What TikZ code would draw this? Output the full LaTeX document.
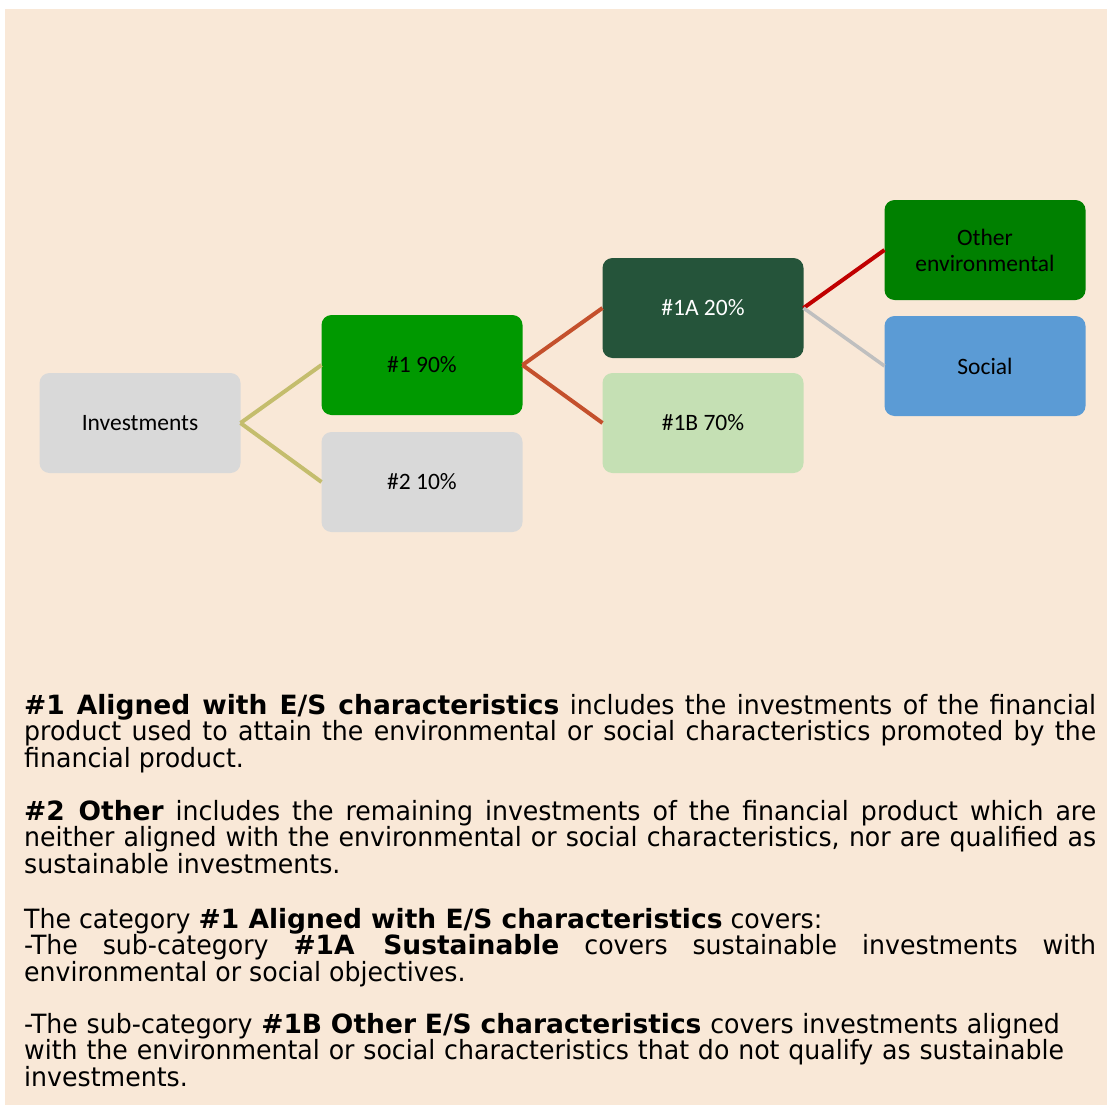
\documentclass[tikz,border=0pt]{standalone}
\usepackage{fontspec}
\setmainfont{Carlito}
\newfontfamily\notefont[FakeStretch=0.952]{DejaVu Sans}
\newfontfamily\noteboldfont{DejaVu Sans}
\newcommand\esbold[1]{{\noteboldfont\bfseries #1}}
\usetikzlibrary{positioning}
\definecolor{esbeige}{RGB}{249,232,215}
\definecolor{esgrey}{RGB}{217,217,217}
\definecolor{esgreen}{RGB}{0,153,0}
\definecolor{esdarkgreen}{RGB}{37,84,58}
\definecolor{eslightgreen}{RGB}{197,224,180}
\definecolor{esenvgreen}{RGB}{0,128,0}
\definecolor{essocialblue}{RGB}{91,155,213}
\definecolor{esolive}{RGB}{196,189,109}
\definecolor{esrust}{RGB}{196,80,44}
\definecolor{esred}{RGB}{192,0,0}
\definecolor{eslinegrey}{RGB}{191,191,191}
\lineskiplimit=-30pt
\hyphenpenalty=10000
\tolerance=10000

\begin{document}
\begin{tikzpicture}[x=1pt, y=-1pt,
  catbox/.style={rounded corners=10pt, minimum width=201pt, minimum height=100pt, inner sep=2pt, outer sep=0pt, align=center, font=\fontsize{23.5}{26}\selectfont},
  link/.style={line width=4pt},
  notetext/.style={anchor=base west, inner sep=0pt, text width=1072pt, align=justify, font=\notefont\fontsize{26.5}{26.5}\selectfont}]
  \useasboundingbox (0,0) rectangle (1109,1113);
  \fill[esbeige] (5,9) rectangle (1107,1105);

  \node[catbox, fill=esgrey] (inv) at (140,423) {Investments};
  \node[catbox, fill=esgreen] (g1) at (422,365) {\#1 90\%};
  \node[catbox, fill=esgrey] (g2) at (422,482) {\#2 10\%};
  \node[catbox, fill=esdarkgreen, text=white] (g1a) at (703,308) {\#1A 20\%};
  \node[catbox, fill=eslightgreen] (g1b) at (703,423) {\#1B 70\%};
  \node[catbox, fill=esenvgreen] (oenv) at (985,250) {Other\\environmental};
  \node[catbox, fill=essocialblue] (soc) at (985,366) {Social};

  \draw[link, esolive] (inv.east) -- (g1.west);
  \draw[link, esolive] (inv.east) -- (g2.west);
  \draw[link, esrust] (g1.east) -- (g1a.west);
  \draw[link, esrust] (g1.east) -- (g1b.west);
  \draw[link, esred] (g1a.east) -- (oenv.west);
  \draw[link, eslinegrey, line width=3.5pt] (g1a.east) -- (soc.west);

  \node[notetext] (par1) at (24,714) {\esbold{\#1 Aligned with E/S characteristics} includes the investments of the financial\linebreak product used to attain the environmental or social characteristics promoted by the\linebreak financial product.};
  \node[notetext] (par2) at (24,820) {\esbold{\#2 Other} includes the remaining investments of the financial product which are\linebreak neither aligned with the environmental or social characteristics, nor are qualified as\linebreak sustainable investments.};
  \node[notetext] (par3) at (24,928) {The category \esbold{\#1 Aligned with E/S characteristics} covers:\newline -The sub-category \esbold{\#1A Sustainable} covers sustainable investments with\linebreak environmental or social objectives.};
  \node[notetext, align=left] (par4) at (24,1033) {-The sub-category \esbold{\#1B Other E/S characteristics} covers investments aligned\newline with the environmental or social characteristics that do not qualify as sustainable\newline investments.};
\end{tikzpicture}
\end{document}
